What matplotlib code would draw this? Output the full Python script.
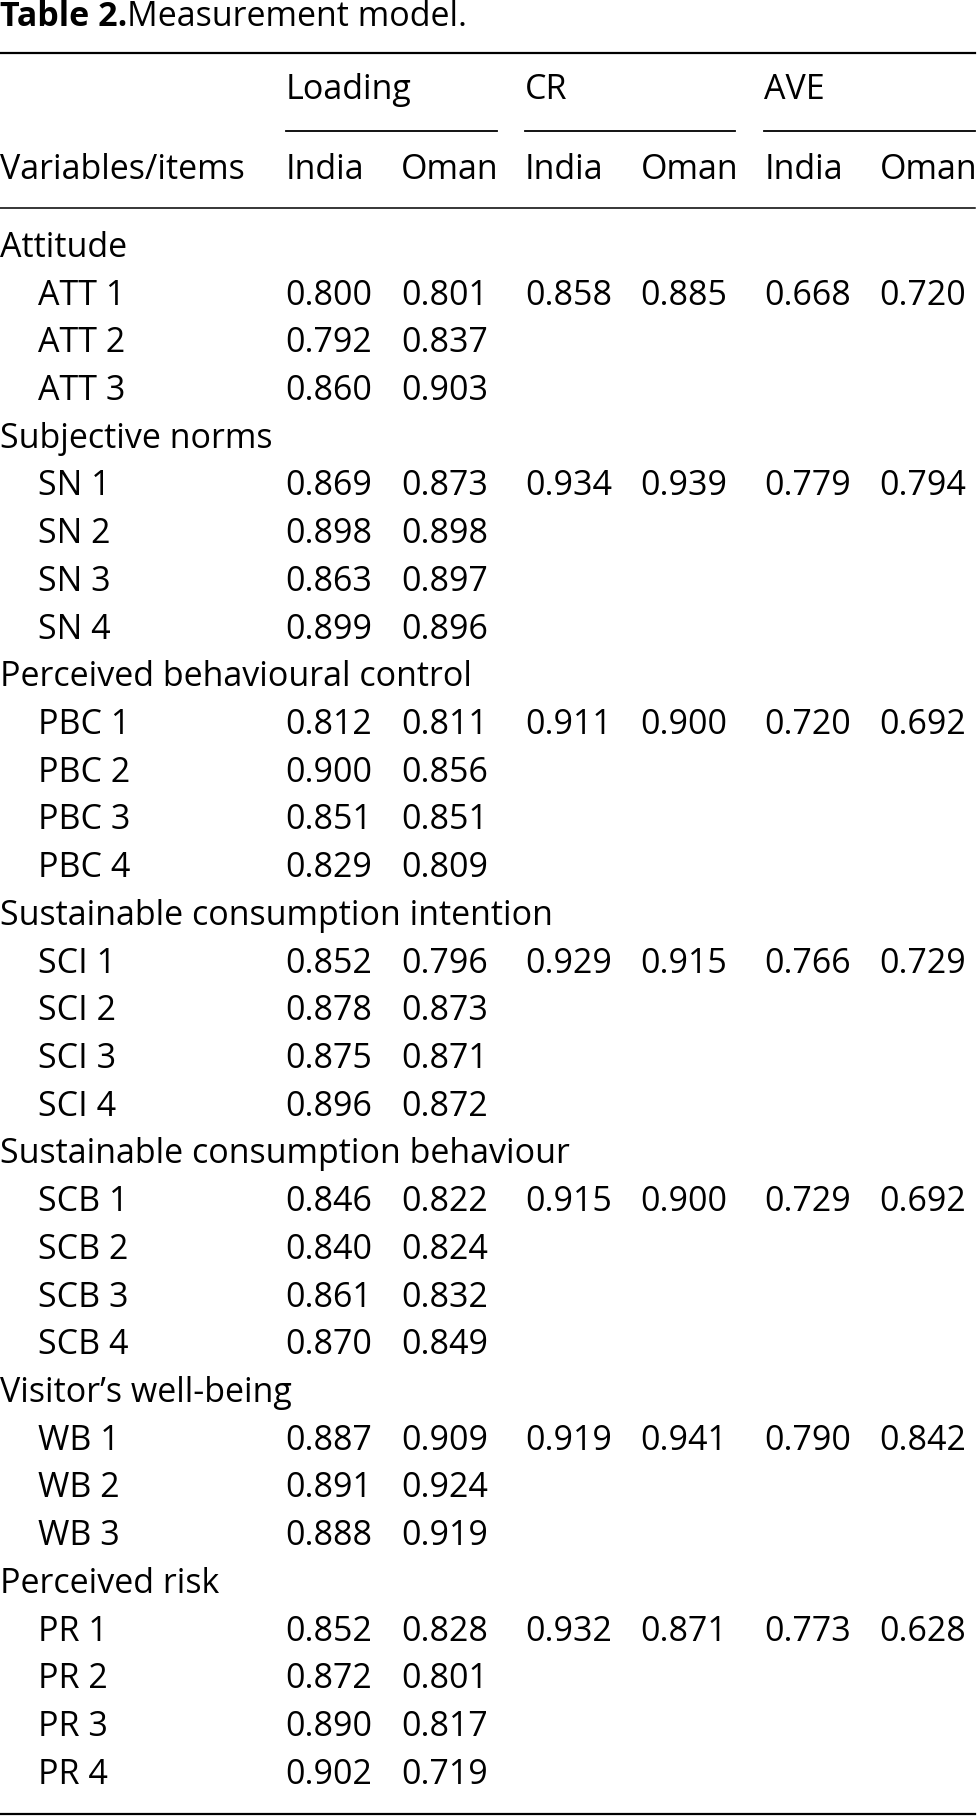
import matplotlib
matplotlib.use("Agg")
import matplotlib.pyplot as plt

groups = ["Attitude", "Subjective norms", "Perceived behavioural control",
          "Sustainable consumption intention", "Sustainable consumption behaviour",
          "Visitor’s well-being", "Perceived risk"]
items = [["ATT 1", "ATT 2", "ATT 3"],
         ["SN 1", "SN 2", "SN 3", "SN 4"],
         ["PBC 1", "PBC 2", "PBC 3", "PBC 4"],
         ["SCI 1", "SCI 2", "SCI 3", "SCI 4"],
         ["SCB 1", "SCB 2", "SCB 3", "SCB 4"],
         ["WB 1", "WB 2", "WB 3"],
         ["PR 1", "PR 2", "PR 3", "PR 4"]]
load_india = [["0.800", "0.792", "0.860"],
              ["0.869", "0.898", "0.863", "0.899"],
              ["0.812", "0.900", "0.851", "0.829"],
              ["0.852", "0.878", "0.875", "0.896"],
              ["0.846", "0.840", "0.861", "0.870"],
              ["0.887", "0.891", "0.888"],
              ["0.852", "0.872", "0.890", "0.902"]]
load_oman = [["0.801", "0.837", "0.903"],
             ["0.873", "0.898", "0.897", "0.896"],
             ["0.811", "0.856", "0.851", "0.809"],
             ["0.796", "0.873", "0.871", "0.872"],
             ["0.822", "0.824", "0.832", "0.849"],
             ["0.909", "0.924", "0.919"],
             ["0.828", "0.801", "0.817", "0.719"]]
cr_india = ["0.858", "0.934", "0.911", "0.929", "0.915", "0.919", "0.932"]
cr_oman = ["0.885", "0.939", "0.900", "0.915", "0.900", "0.941", "0.871"]
ave_india = ["0.668", "0.779", "0.720", "0.766", "0.729", "0.790", "0.773"]
ave_oman = ["0.720", "0.794", "0.692", "0.729", "0.692", "0.842", "0.628"]

plt.rcParams['font.family'] = ['Open Sans', 'DejaVu Sans']
fig = plt.figure(figsize=(9.78, 18.16), dpi=100)
ax = fig.add_axes([0, 0, 1, 1])
ax.set_xlim(0, 846)
ax.set_ylim(1568, 0)
ax.axis('off')

fs = 24.5
col_x = [247, 347, 454, 554, 661, 761]
ax.text(0, 15, "Table 2.", fontsize=fs, fontweight='bold', va='center', ha='left')
ax.text(110, 15, "Measurement model.", fontsize=fs, va='center', ha='left')
ax.plot([0, 843], [46, 46], color='black', lw=1.6)
for x0, x1, lab in [(247, 430, "Loading"), (454, 636, "CR"), (661, 843, "AVE")]:
    ax.text(x0, 78, lab, fontsize=fs, va='center', ha='left')
    ax.plot([x0, x1], [113, 113], color='black', lw=1.3)
ax.text(0, 147, "Variables/items", fontsize=fs, va='center', ha='left')
for i, x in enumerate(col_x):
    ax.text(x, 147, "India" if i % 2 == 0 else "Oman", fontsize=fs, va='center', ha='left')
ax.plot([0, 843], [180, 180], color='black', lw=1.1)

y = 214
step = 41.2
for g in range(len(groups)):
    ax.text(0, y, groups[g], fontsize=fs, va='center', ha='left')
    y += step
    for k in range(len(items[g])):
        ax.text(33, y, items[g][k], fontsize=fs, va='center', ha='left')
        vals = [load_india[g][k], load_oman[g][k]]
        if k == 0:
            vals += [cr_india[g], cr_oman[g], ave_india[g], ave_oman[g]]
        for x, v in zip(col_x, vals):
            ax.text(x, y, v, fontsize=fs, va='center', ha='left')
        y += step
ax.plot([0, 843], [1566, 1566], color='black', lw=1.6)

fig.savefig("out.png", dpi=100)
